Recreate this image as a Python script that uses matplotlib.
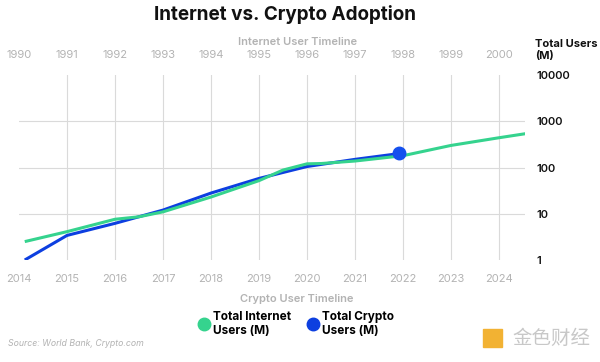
import matplotlib
matplotlib.use("Agg")
import matplotlib.pyplot as plt
from matplotlib.lines import Line2D
from matplotlib.patches import Rectangle

# Data
internet_years = [2014.12, 2015, 2016, 2016.5, 2017, 2018, 2019, 2019.5, 2020, 2020.3, 2021, 2022, 2023, 2024, 2024.56]
internet_users = [2.5, 4.1, 7.6, 8.6, 11, 23, 52, 88, 120, 122, 138, 180, 300, 440, 540]
crypto_years = [2014.12, 2015, 2016, 2017, 2018, 2019, 2020, 2021, 2021.92]
crypto_users = [1.0, 3.4, 6.2, 12, 28, 58, 105, 150, 200]
crypto_marker_year = 2021.92
crypto_marker_value = 207
bottom_years = [2014, 2015, 2016, 2017, 2018, 2019, 2020, 2021, 2022, 2023, 2024]
top_labels = ["1990", "1991", "1992", "1993", "1994", "1995", "1996", "1997", "1998", "1999", "2000"]
y_ticks = [1, 10, 100, 1000, 10000]
y_labels = ["1", "10", "100", "1000", "10000"]

GREEN = "#35D38E"
BLUE = "#0D3FE0"
GREY = "#b3b3b3"
plt.rcParams['font.family'] = ["Inter", "DejaVu Sans"]

W, H = 600, 362
fig = plt.figure(figsize=(6, 3.62), dpi=100)
x0_px, x1_px, y0_px, y1_px = 18.5, 525, 260, 75
ax = fig.add_axes([x0_px / W, 1 - y0_px / H, (x1_px - x0_px) / W, (y0_px - y1_px) / H])

ax.set_yscale("log")
ax.set_ylim(1, 10000)
ax.set_xlim(2014 + (x0_px - 19) / 48, 2014 + (x1_px - 19) / 48)

for x in bottom_years[1:]:
    ax.axvline(x, color="#dadada", lw=0.8, zorder=0)
for y in [10, 100, 1000]:
    ax.axhline(y, color="#dadada", lw=0.8, zorder=0)

ax.plot(internet_years, internet_users, color=GREEN, lw=2.2, zorder=3, solid_capstyle="butt")
ax.plot(crypto_years, crypto_users, color=BLUE, lw=2.2, zorder=2, solid_capstyle="butt")
ax.plot([crypto_marker_year], [crypto_marker_value], "o", color="#1550EE", ms=9, zorder=4)

for s in ax.spines.values():
    s.set_visible(False)

ax.set_xticks(bottom_years)
ax.set_xticklabels([str(y) for y in bottom_years], color=GREY, fontsize=8)
ax.tick_params(axis="x", length=0, pad=10)

ax.yaxis.tick_right()
ax.set_yticks(y_ticks)
ax.set_yticklabels(y_labels, fontsize=8, color="#111111", fontweight="semibold")
ax.yaxis.set_minor_locator(matplotlib.ticker.NullLocator())
ax.tick_params(axis="y", length=0, pad=8)

axt = ax.twiny()
axt.set_xlim(ax.get_xlim())
axt.set_xticks(bottom_years)
axt.set_xticklabels(top_labels, color=GREY, fontsize=8)
axt.tick_params(axis="x", length=0, pad=11)
for s in axt.spines.values():
    s.set_visible(False)

fig.text(285 / W, 1 - 14 / H, "Internet vs. Crypto Adoption", ha="center", va="center",
         fontsize=13.6, fontweight="bold", color="#111111")
fig.text(298 / W, 1 - 42 / H, "Internet User Timeline", ha="center", va="center",
         fontsize=8, fontweight="semibold", color=GREY)
fig.text(535 / W, 1 - 50 / H, "Total Users\n(M)", ha="left", va="center",
         fontsize=8, fontweight="bold", color="#111111", linespacing=1.2)
fig.text(297 / W, 1 - 299 / H, "Crypto User Timeline", ha="center", va="center",
         fontsize=8, fontweight="semibold", color=GREY)
fig.text(8 / W, 1 - 343 / H, "Source: World Bank, Crypto.com", ha="left", va="center",
         fontsize=6.3, style="italic", color=GREY)

handles = [Line2D([], [], marker="o", ls="", color=GREEN, ms=9),
           Line2D([], [], marker="o", ls="", color=BLUE, ms=9)]
fig.legend(handles, ["Total Internet\nUsers (M)", "Total Crypto\nUsers (M)"],
           loc="center", bbox_to_anchor=(296 / W, 1 - 324 / H), ncol=2, frameon=False,
           handletextpad=0.3, columnspacing=1.3, handlelength=1.0,
           prop={"size": 8.5, "weight": "bold"})

fig.text(590 / W, 1 - 338 / H, "金色财经", ha="right", va="center", fontsize=14,
         color="#c8c8c8", family=["Noto Sans CJK SC", "DejaVu Sans"])
fig.patches.append(Rectangle((483 / W, 1 - 347 / H), 19 / W, 18 / H,
                             transform=fig.transFigure, color="#F2B233", figure=fig))

fig.savefig("out.png", dpi=100)
